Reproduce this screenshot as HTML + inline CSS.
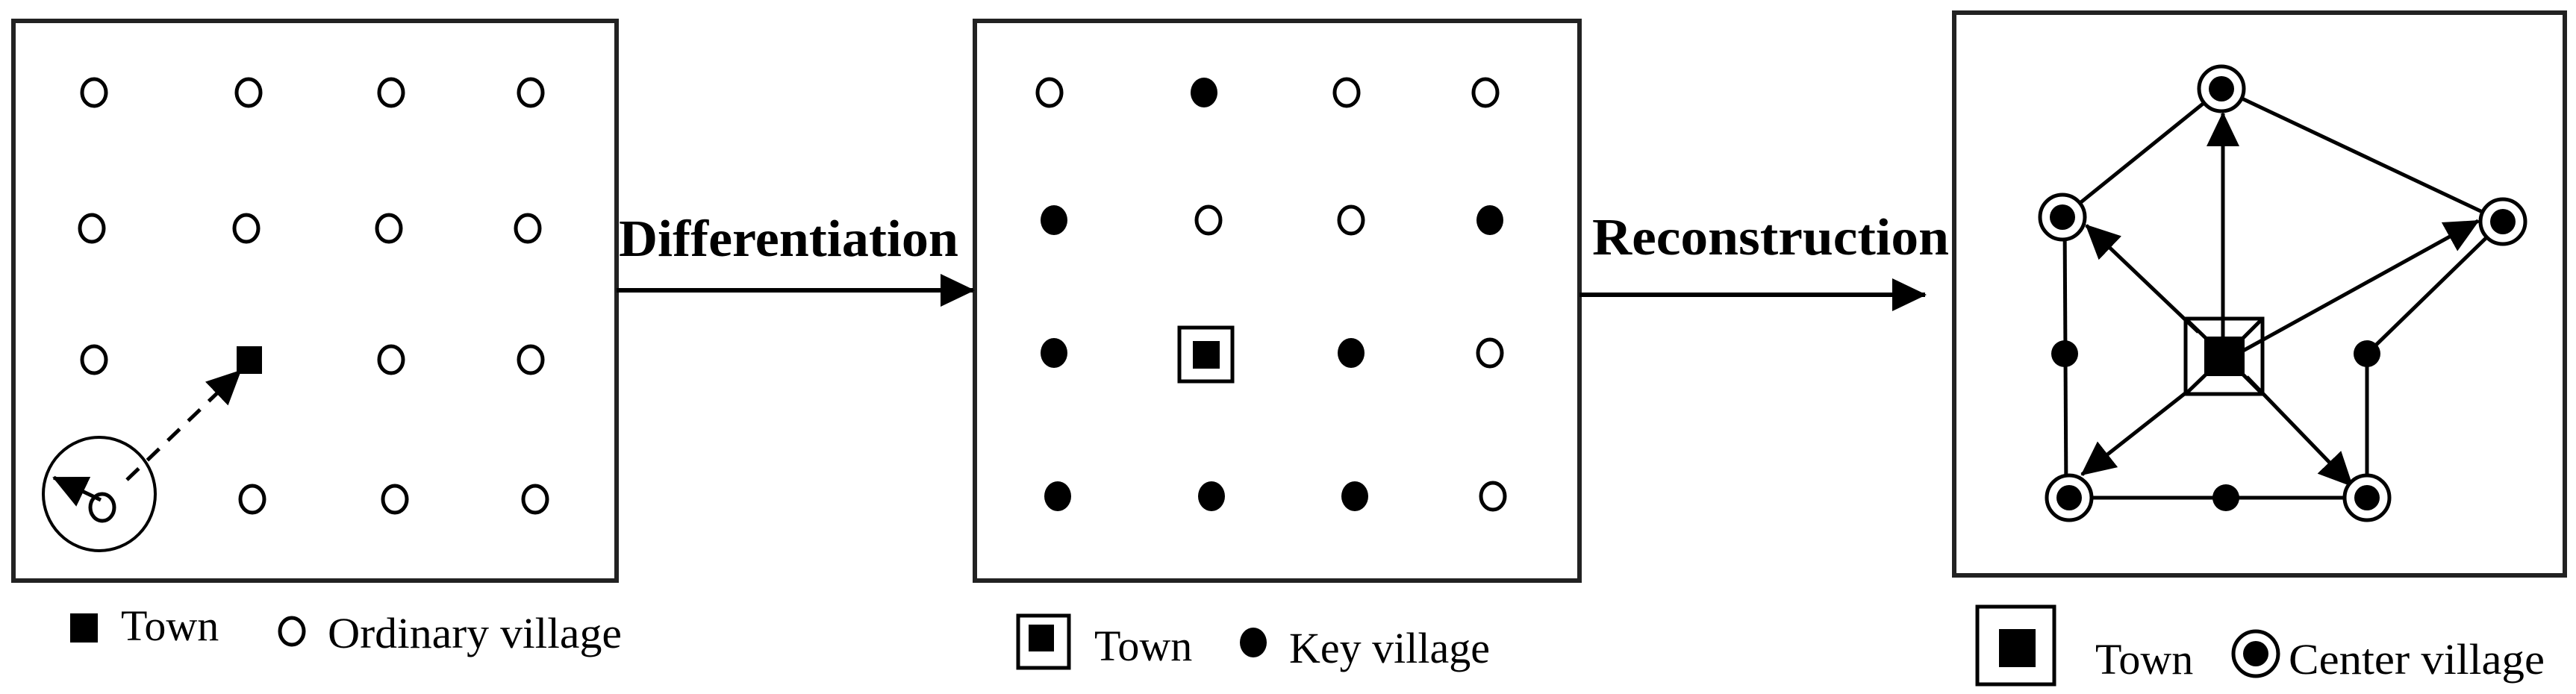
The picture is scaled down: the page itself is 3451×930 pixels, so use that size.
<!DOCTYPE html>
<html><head><meta charset="utf-8"><style>html,body{margin:0;padding:0;background:#fff}svg{display:block}</style></head>
<body>
<svg width="3451" height="930" viewBox="0 0 3451 930" xmlns="http://www.w3.org/2000/svg" font-family="Liberation Serif, serif">
<defs>
<marker id="a" markerUnits="userSpaceOnUse" markerWidth="50" markerHeight="50" refX="44" refY="22" orient="auto"><path d="M0,0 L46,22 L0,44 z" fill="#000"/></marker>
</defs>
<g fill="none" stroke="#222" stroke-width="6">
<rect x="18" y="28" width="808" height="750"/>
<rect x="1306" y="28" width="810" height="750"/>
<rect x="2618" y="17" width="818" height="754"/>
</g>
<!-- panel 1 -->
<g fill="none" stroke="#000" stroke-width="5">
<ellipse cx="126" cy="124" rx="16" ry="18"/><ellipse cx="333" cy="124" rx="16" ry="18"/><ellipse cx="524" cy="124" rx="16" ry="18"/><ellipse cx="711" cy="124" rx="16" ry="18"/>
<ellipse cx="123" cy="306" rx="16" ry="18"/><ellipse cx="330" cy="306" rx="16" ry="18"/><ellipse cx="521" cy="306" rx="16" ry="18"/><ellipse cx="707" cy="306" rx="16" ry="18"/>
<ellipse cx="126" cy="482" rx="16" ry="18"/><ellipse cx="524" cy="482" rx="16" ry="18"/><ellipse cx="711" cy="482" rx="16" ry="18"/>
<ellipse cx="137" cy="680" rx="16" ry="18"/><ellipse cx="338" cy="669" rx="16" ry="18"/><ellipse cx="529" cy="669" rx="16" ry="18"/><ellipse cx="717" cy="669" rx="16" ry="18"/>
<ellipse cx="133" cy="662" rx="75" ry="76" stroke-width="4"/>
</g>
<rect x="317" y="464" width="34" height="37" fill="#000"/>
<line x1="170" y1="643" x2="322" y2="497" stroke="#000" stroke-width="5" stroke-dasharray="22,16" marker-end="url(#a)"/>
<line x1="135" y1="670" x2="72" y2="640" stroke="#000" stroke-width="5" marker-end="url(#a)"/>
<rect x="94" y="822" width="37" height="39" fill="#000"/>
<text x="162" y="858" font-size="58">Town</text>
<ellipse cx="391" cy="846" rx="16" ry="18" fill="none" stroke="#000" stroke-width="5"/>
<text x="439" y="868" font-size="58" textLength="394" lengthAdjust="spacingAndGlyphs">Ordinary village</text>
<!-- arrow 1 -->
<line x1="826" y1="389" x2="1304" y2="389" stroke="#000" stroke-width="6" marker-end="url(#a)"/>
<text x="829" y="343" font-size="70" font-weight="bold" textLength="455" lengthAdjust="spacingAndGlyphs">Differentiation</text>
<!-- panel 2 -->
<g fill="none" stroke="#000" stroke-width="5">
<ellipse cx="1406" cy="124" rx="16" ry="18"/><ellipse cx="1804" cy="124" rx="16" ry="18"/><ellipse cx="1990" cy="124" rx="16" ry="18"/>
<ellipse cx="1619" cy="295" rx="16" ry="18"/><ellipse cx="1810" cy="295" rx="16" ry="18"/>
<ellipse cx="1996" cy="473" rx="16" ry="18"/><ellipse cx="2000" cy="665" rx="16" ry="18"/>
<rect x="1580" y="439" width="71" height="72"/>
</g>
<g fill="#000">
<ellipse cx="1613" cy="124" rx="18" ry="20"/>
<ellipse cx="1412" cy="295" rx="18" ry="20"/><ellipse cx="1996" cy="295" rx="18" ry="20"/>
<ellipse cx="1412" cy="473" rx="18" ry="20"/><ellipse cx="1810" cy="473" rx="18" ry="20"/>
<ellipse cx="1417" cy="665" rx="18" ry="20"/><ellipse cx="1623" cy="665" rx="18" ry="20"/><ellipse cx="1815" cy="665" rx="18" ry="20"/>
<rect x="1598" y="457" width="36" height="37"/>
<rect x="1378" y="837" width="34" height="36"/>
<ellipse cx="1679" cy="861" rx="18" ry="20"/>
</g>
<rect x="1364" y="825" width="68" height="70" fill="none" stroke="#000" stroke-width="5"/>
<text x="1466" y="885" font-size="58">Town</text>
<text x="1727" y="888" font-size="58">Key village</text>
<!-- arrow 2 -->
<line x1="2116" y1="395" x2="2579" y2="395" stroke="#000" stroke-width="6" marker-end="url(#a)"/>
<text x="2133" y="341" font-size="70" font-weight="bold" textLength="478" lengthAdjust="spacingAndGlyphs">Reconstruction</text>
<!-- panel 3 -->
<g stroke="#000" stroke-width="5" fill="none">
<line x1="2976" y1="119" x2="2763" y2="291"/>
<line x1="2976" y1="119" x2="3353" y2="297"/>
<line x1="2766" y1="291" x2="2768" y2="667"/>
<line x1="2772" y1="667" x2="3171" y2="667"/>
<line x1="3171" y1="667" x2="3171" y2="474"/>
<line x1="3171" y1="474" x2="3353" y2="297"/>
<line x1="2978" y1="478" x2="2978" y2="152" marker-end="url(#a)"/>
<line x1="2945" y1="445" x2="2795" y2="302" marker-end="url(#a)"/>
<line x1="3005" y1="470" x2="3320" y2="296" marker-end="url(#a)"/>
<line x1="2930" y1="525" x2="2789" y2="636" marker-end="url(#a)"/>
<line x1="3010" y1="505" x2="3151" y2="651" marker-end="url(#a)"/>
</g>
<g stroke="#000" stroke-width="5" fill="#fff">
<circle cx="2976" cy="119" r="30"/><circle cx="2763" cy="291" r="30"/><circle cx="3353" cy="297" r="30"/>
<circle cx="2772" cy="667" r="30"/><circle cx="3171" cy="667" r="30"/>
</g>
<g fill="#000">
<circle cx="2976" cy="119" r="17"/><circle cx="2763" cy="291" r="17"/><circle cx="3353" cy="297" r="17"/>
<circle cx="2772" cy="667" r="17"/><circle cx="3171" cy="667" r="17"/>
<circle cx="2766" cy="474" r="18"/><circle cx="3171" cy="474" r="18"/><circle cx="2982" cy="667" r="18"/>
<rect x="2953" y="451" width="54" height="53"/>
<rect x="2678" y="843" width="49" height="51"/>
<circle cx="3022" cy="876" r="17"/>
</g>
<g stroke="#000" stroke-width="5" fill="none">
<line x1="2928" y1="427" x2="2956" y2="454"/><line x1="3031" y1="427" x2="3004" y2="454"/>
<line x1="2928" y1="528" x2="2956" y2="501"/><line x1="3031" y1="528" x2="3004" y2="501"/>
<rect x="2928" y="427" width="103" height="101"/>
<rect x="2649" y="813" width="103" height="104"/>
<circle cx="3022" cy="876" r="30"/>
</g>
<text x="2807" y="903" font-size="58">Town</text>
<text x="3066" y="903" font-size="58" textLength="343" lengthAdjust="spacingAndGlyphs">Center village</text>
</svg>
</body></html>
